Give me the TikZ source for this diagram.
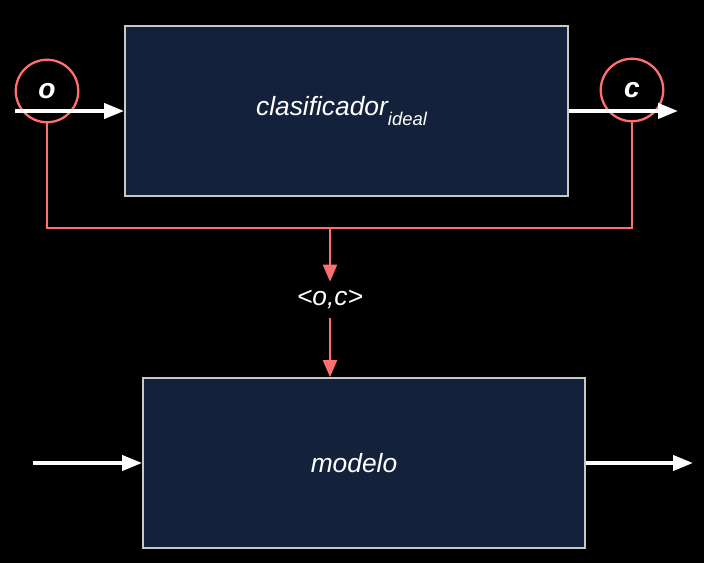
\documentclass[tikz,border=0pt]{standalone}
\usepackage{fontspec}
\setmainfont{Liberation Sans}
\usetikzlibrary{arrows.meta,positioning,calc}

\definecolor{boxfill}{HTML}{13223A}
\definecolor{boxline}{HTML}{C8C8C8}
\definecolor{salmon}{HTML}{FF6F6F}

\begin{document}
\begin{tikzpicture}[
      font=\fontsize{15}{17}\selectfont\itshape,
      block/.style={draw=boxline, line width=1pt, fill=boxfill, text=white, minimum width=8.86cm, minimum height=3.4cm},
      probe/.style={draw=salmon, line width=1.3pt, circle, minimum size=1.25cm, text=white, font=\fontsize{16}{18}\selectfont\bfseries\itshape},
      warrow/.style={-{Triangle[length=0.4cm,width=0.3cm]}, white, line width=2.2pt},
      rarrow/.style={-{Triangle[length=0.34cm,width=0.28cm]}, salmon, line width=1.2pt},
      rline/.style={salmon, line width=1.2pt}
    ]
    \fill[black] (0,0) rectangle (14.08,-11.26);
    \useasboundingbox (0,0) rectangle (14.08,-11.26);

    % Clasificador ideal
    \node[block] (clf) at (6.93,-2.22)
      {\hspace*{-0.2cm}clasificador\raisebox{-0.7ex}{\fontsize{10.5}{12}\selectfont ideal}};
    \node[probe] (o) at (0.94,-1.82) {o};
    \node[probe] (c) at (12.64,-1.80) {c};
    \coordinate (inO)  at (0.30,-2.22);
    \coordinate (outC) at (13.56,-2.22);
    \draw[warrow] (inO) -- (clf.west);
    \draw[warrow] (clf.east) -- (outC);

    % Pares de entrenamiento
    \coordinate (join) at (6.60,-4.56);
    \draw[rline] (o.south) |- (join) -| (c.south);
    \node[text=white, minimum height=0.72cm, inner sep=0pt] (pair) at (6.60,-6.0) {<o,c>};
    \draw[rarrow] (join) -- (pair.north);

    % Modelo
    \node[block, minimum width=8.84cm] (mod) at (7.28,-9.26) {\hspace*{-0.4cm}modelo};
    \draw[rarrow] (pair.south) -- (pair.south |- mod.north);
    \coordinate (inM)  at (0.66,-9.26);
    \coordinate (outM) at (13.86,-9.26);
    \draw[warrow] (inM) -- (mod.west);
    \draw[warrow] (mod.east) -- (outM);
  \end{tikzpicture}
\end{document}
